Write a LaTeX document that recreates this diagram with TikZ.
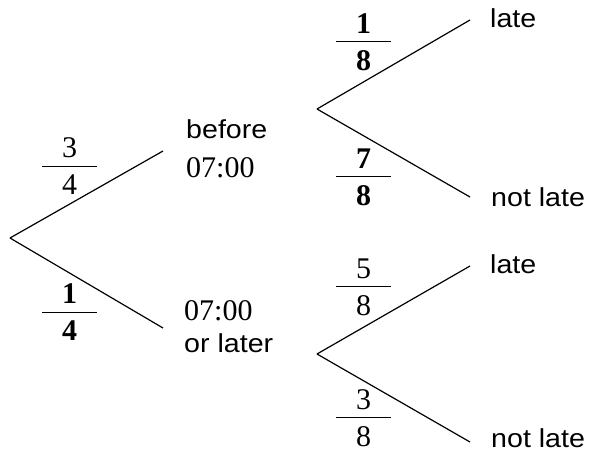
\documentclass[tikz,border=0pt]{standalone}
\usepackage{fontspec}
\setmainfont{Liberation Serif}
\setsansfont{Liberation Sans}[FakeStretch=1.1]
\usetikzlibrary{positioning}

\newcommand{\fr}[2]{\vbox{\hbox to 55pt{\hss#1\hss}\kern8pt\hrule height 1pt\kern8pt\hbox to 55pt{\hss#2\hss}}}
\newcommand{\tm}[1]{{\rmfamily\fontsize{30}{30}\selectfont #1}}

\tikzset{
  branch/.style={-,draw=black,line width=1.2pt},
  lbl/.style={anchor=base west,inner sep=0pt,align=left,font=\sffamily\fontsize{26}{39}\selectfont},
  frac/.style={inner sep=0pt,font=\rmfamily\fontsize{30}{30}\selectfont}
}

\begin{document}
\begin{tikzpicture}[x=1pt,y=-1pt]
\useasboundingbox (0,0) rectangle (589,464);
\coordinate (start) at (10,238);
\coordinate (early) at (163,151);
\coordinate (later) at (163,328);
\coordinate (e0) at (317,109);
\coordinate (e1) at (470,20);
\coordinate (e2) at (470,197);
\coordinate (l0) at (317,354);
\coordinate (l1) at (470,266);
\coordinate (l2) at (470,442);

% labels (base of a two-line label is its last line)
\node[lbl] (tEarly) at (186,177) {before\\\tm{07:00}};
\node[lbl,font=\sffamily\fontsize{26}{32}\selectfont] (tLater) at (184,352) {\tm{07:00}\\or later};
\node[lbl] (tE1) at (490,27) {late};
\node[lbl] (tE2) at (491,206) {not late};
\node[lbl] (tL1) at (490,273) {late};
\node[lbl] (tL2) at (491,447) {not late};

\node[frac] (pEarly) at (69.5,166) {\fr{3}{4}};
\node[frac] (pLater) at (69.5,312) {\fr{\bfseries 1}{\bfseries 4}};
\node[frac] (pE1) at (363.5,42) {\fr{\bfseries 1}{\bfseries 8}};
\node[frac] (pE2) at (363.5,177) {\fr{\bfseries 7}{\bfseries 8}};
\node[frac] (pL1) at (363.5,287) {\fr{5}{8}};
\node[frac] (pL2) at (363.5,418) {\fr{3}{8}};

\path [branch] (start) edge (early);
\path [branch] (start) edge (later);
\path [branch] (e0) edge (e1);
\path [branch] (e0) edge (e2);
\path [branch] (l0) edge (l1);
\path [branch] (l0) edge (l2);
\end{tikzpicture}
\end{document}
